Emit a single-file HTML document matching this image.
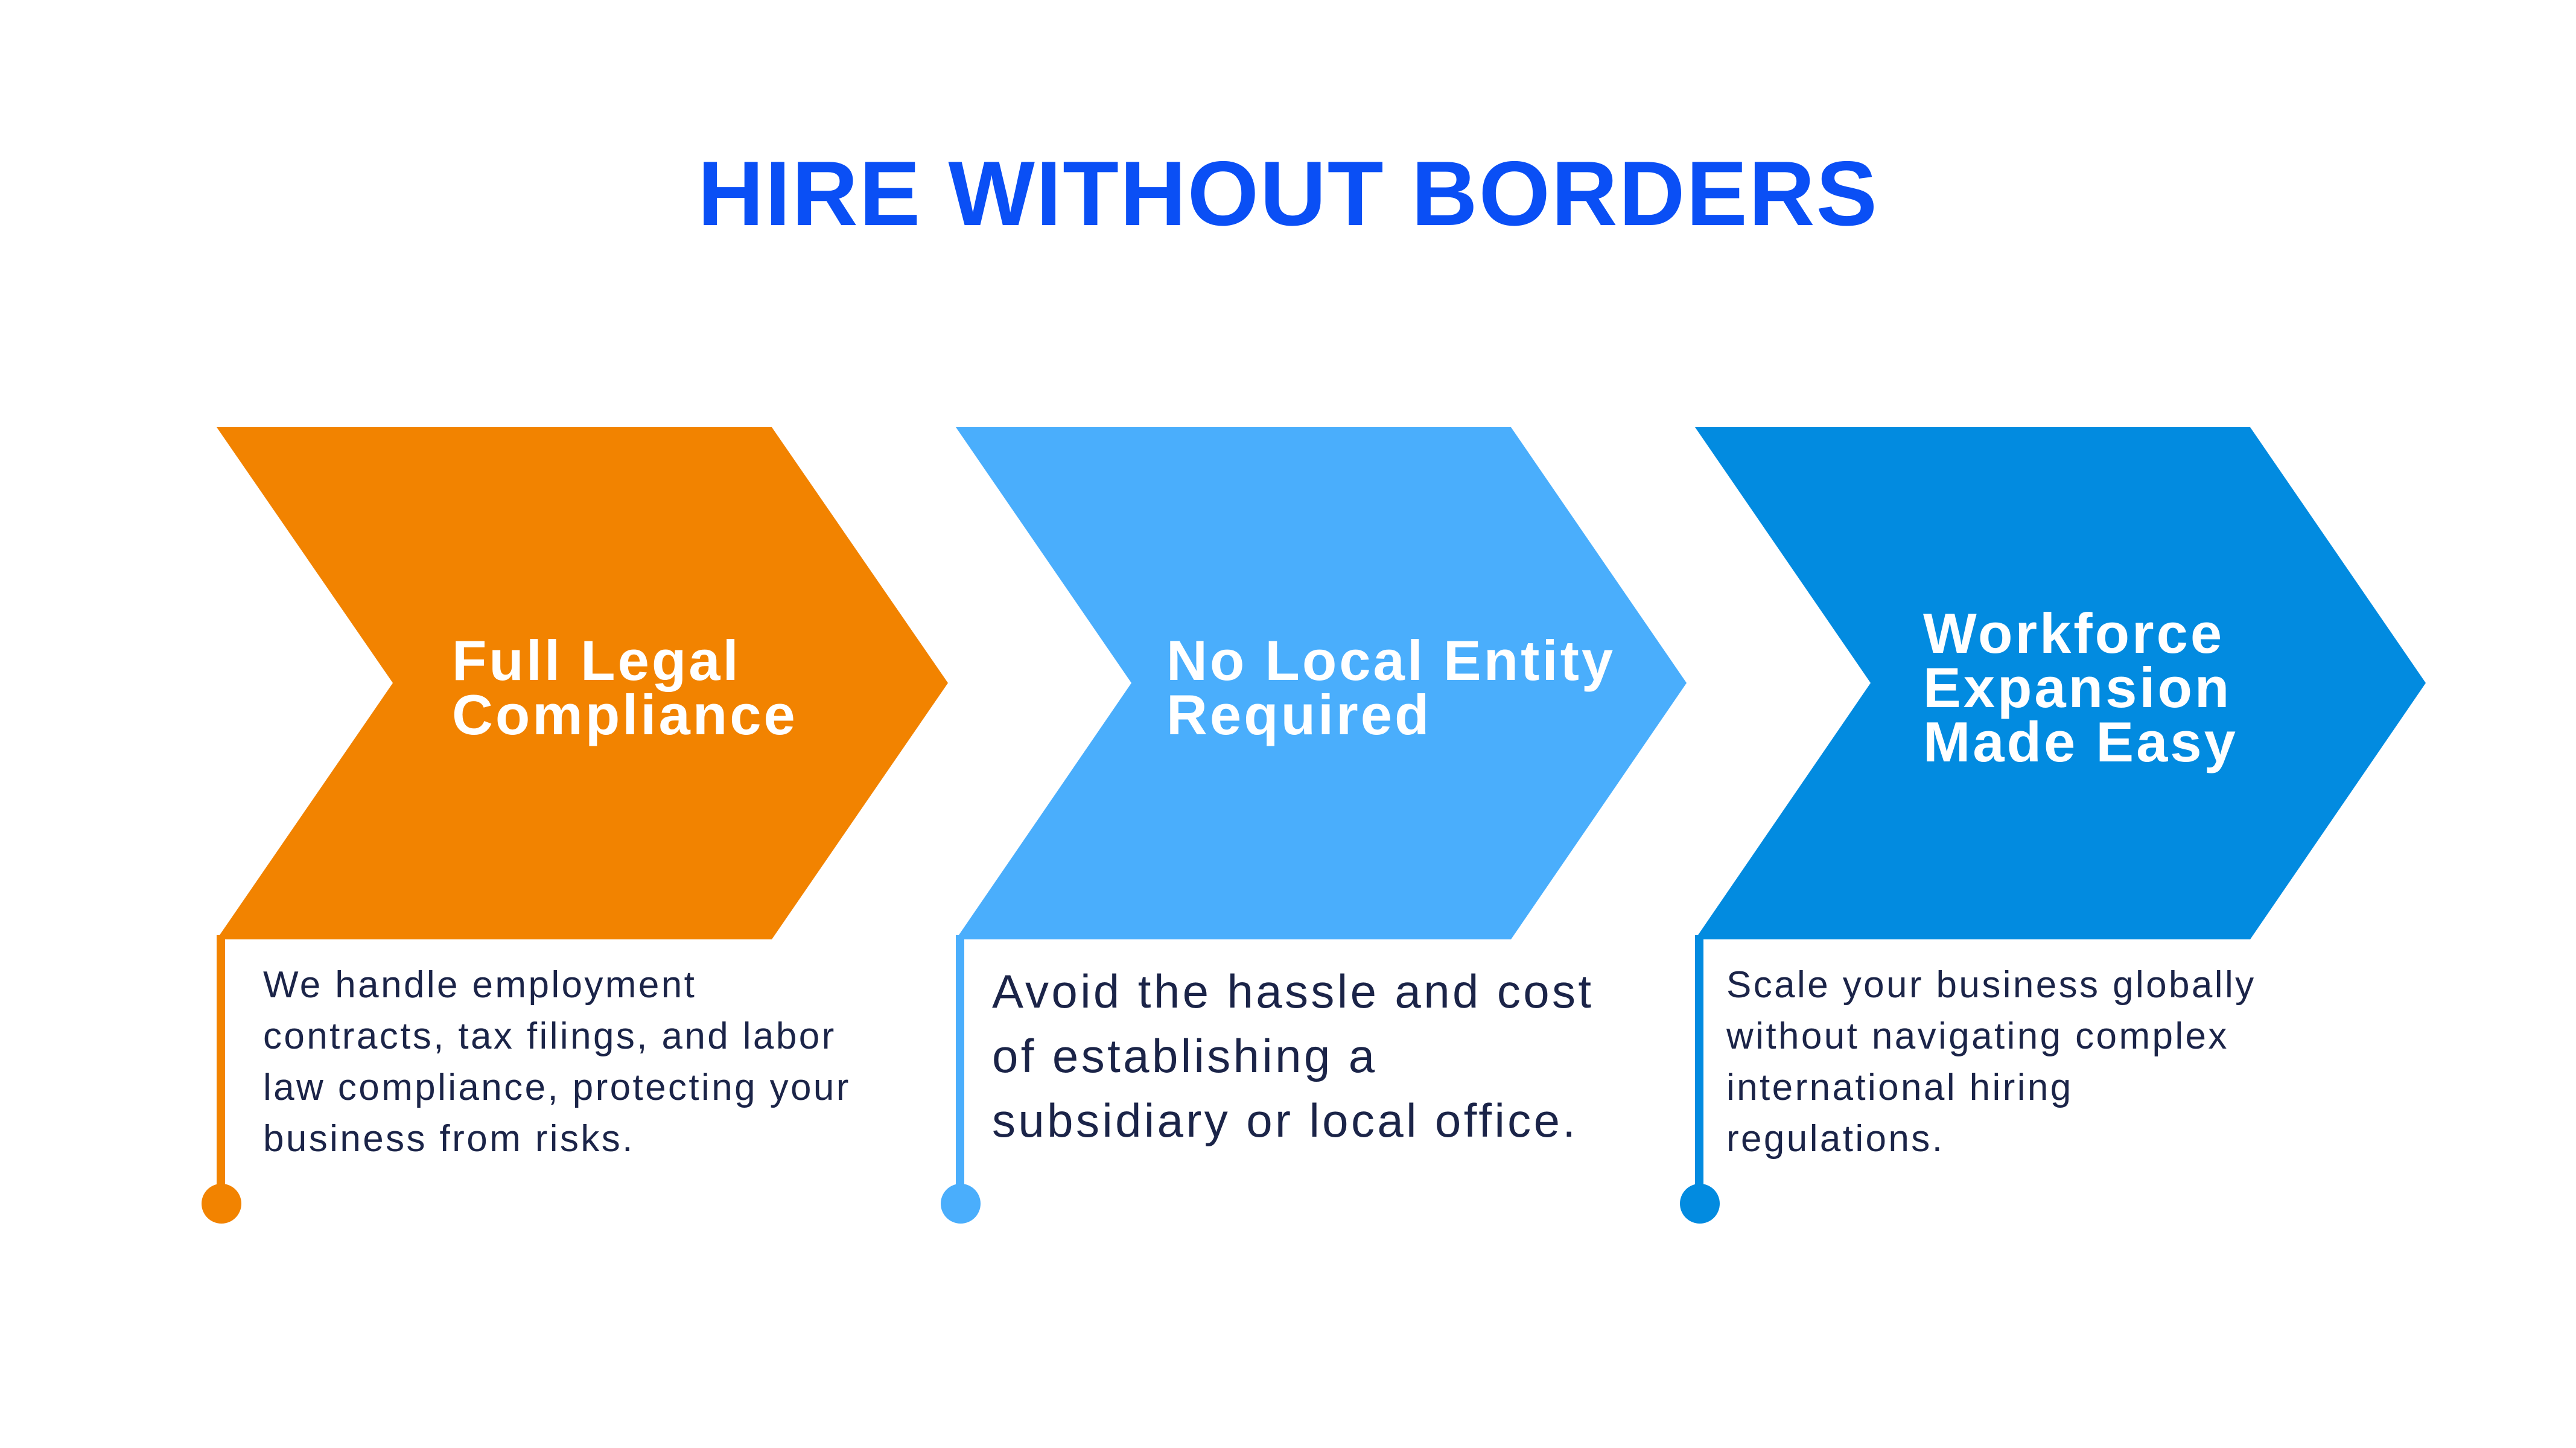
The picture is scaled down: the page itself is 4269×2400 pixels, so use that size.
<!DOCTYPE html>
<html><head><meta charset="utf-8"><style>
html,body{margin:0;padding:0;background:#fff;}
body{width:4269px;height:2400px;position:relative;overflow:hidden;font-family:"Liberation Sans",sans-serif;}
.t{position:absolute;white-space:nowrap;}
.h{font-weight:bold;color:#fff;font-size:94px;line-height:90px;letter-spacing:4px;}
.b{color:#1b2448;font-size:62px;line-height:85px;letter-spacing:3.4px;}
</style></head><body>
<svg width="4269" height="2400" style="position:absolute;left:0;top:0">
<polygon points="359,708 1279,708 1571,1132 1279,1557 359,1557 651,1132" fill="#F28300"/>
<polygon points="1584,708 2504,708 2795,1132 2504,1557 1584,1557 1875,1132" fill="#4AAEFC"/>
<polygon points="2809,708 3729,708 4020,1132 3729,1557 2809,1557 3100,1132" fill="#028BE0"/>
<rect x="359" y="1550" width="14" height="445" fill="#F28300"/>
<circle cx="367" cy="1995" r="33" fill="#F28300"/>
<rect x="1584" y="1550" width="14" height="445" fill="#4AAEFC"/>
<circle cx="1592" cy="1995" r="33" fill="#4AAEFC"/>
<rect x="2809" y="1550" width="14" height="445" fill="#028BE0"/>
<circle cx="2817" cy="1995" r="33" fill="#028BE0"/>
</svg>
<div class="t" style="left:0;width:4269px;text-align:center;top:234px;font-size:152px;font-weight:bold;color:#0A4FF5;letter-spacing:2px;">HIRE WITHOUT BORDERS</div>
<div class="t h" style="left:749px;top:1050px;">Full Legal<br>Compliance</div>
<div class="t h" style="left:1933px;top:1050px;">No Local Entity<br>Required</div>
<div class="t h" style="left:3187px;top:1005px;">Workforce<br>Expansion<br>Made Easy</div>
<div class="t b" style="left:436px;top:1590px;">We handle employment<br>contracts, tax filings, and labor<br>law compliance, protecting your<br>business from risks.</div>
<div class="t b" style="left:1644px;top:1590px;font-size:78px;line-height:107px;letter-spacing:4.4px;">Avoid the hassle and cost<br>of establishing a<br>subsidiary or local office.</div>
<div class="t b" style="left:2861px;top:1590px;">Scale your business globally<br>without navigating complex<br>international hiring<br>regulations.</div>
</body></html>
